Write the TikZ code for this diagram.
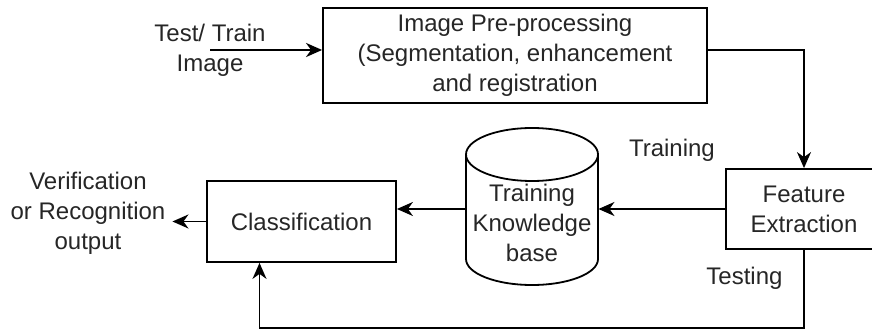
\documentclass[tikz,border=0pt]{standalone}
\usepackage{fontspec}
\setmainfont{Liberation Sans}
\usetikzlibrary{shapes.geometric, arrows.meta, positioning}

\begin{document}
\begin{tikzpicture}[
        x=0.5pt, y=-0.5pt,
        font=\fontsize{12}{15}\selectfont,
        block/.style={rectangle, draw, line width=0.9pt, text=black!85, align=center, inner sep=0pt},
        tag/.style={text=black!85, align=center},
        edge/.style={line width=0.9pt},
        line/.style={draw, line width=0.9pt, -{Stealth[length=8pt, width=7pt, inset=2.5pt]}}
    ]
    \useasboundingbox (0,0) rectangle (872,331);

    % Nodes
    \node [tag] (input) at (210,50) {Test/ Train\\Image};
    \node [block, minimum width=192pt, minimum height=47.5pt] (prep) at (515,55.5) {Image Pre-processing\\(Segmentation, enhancement\\and registration};
    \node [block, minimum width=78pt, minimum height=40pt] (feat) at (804,209) {Feature\\Extraction};
    \node [tag, minimum width=66pt] (kb) at (532,223) {Training\\Knowledge\\base};
    \node [block, minimum width=94.5pt, minimum height=40.5pt] (class) at (301.5,221.5) {Classification};
    \node [tag] (out) at (88,213) {Verification\\or Recognition\\output};

    % Knowledge base drum
    \draw [edge] (532,154.5) ellipse [x radius=33pt, y radius=13.25pt];
    \draw [edge] (466,154.5) -- (466,259) arc [start angle=180, end angle=360, x radius=33pt, y radius=13pt] -- (598,154.5);

    % Edges
    \path [line, line width=1.4pt] (input.center) -- (input.center -| prep.west);
    \path [line] (input.center -| prep.east) -| (feat.north);
    \path [line] (feat.west) -- node [tag, above=20pt, pos=0.42] {Training} (feat.west -| kb.east);
    \path [line] (feat.west -| kb.west) -- (feat.west -| class.east);
    \path [line] (class.west) -- (class.west -| out.east);
    \path [line] (feat.south) -- node [tag, left=7pt, pos=0.37] {Testing} ++(0,78) -| ([xshift=-21pt]class.south);

\end{tikzpicture}
\end{document}
